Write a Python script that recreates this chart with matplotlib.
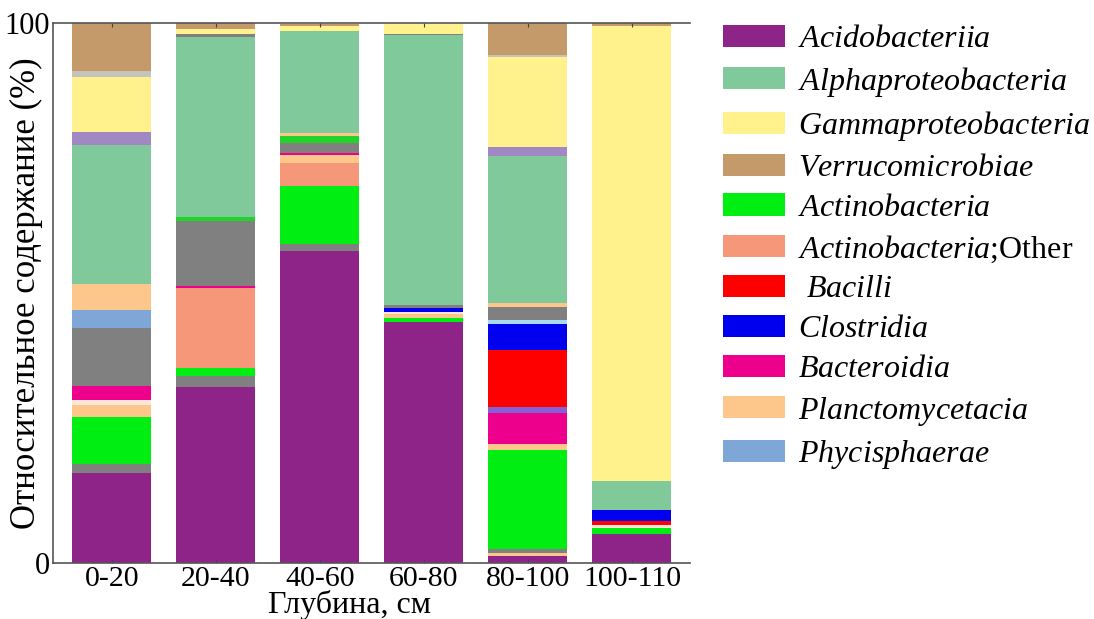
import numpy as np
import matplotlib
matplotlib.use('Agg')
import matplotlib.pyplot as plt
from matplotlib.patches import Patch


plt.rcParams['font.family'] = ['Liberation Serif', 'DejaVu Serif']
plt.rcParams['mathtext.fontset'] = 'custom'
plt.rcParams['mathtext.rm'] = 'Liberation Serif'
plt.rcParams['mathtext.it'] = 'Liberation Serif:italic'

depths = ['0-20', '20-40', '40-60', '60-80', '80-100', '100-110']

# relative abundance of each class, %, listed from the bottom of the stack up
acidobacteriia = [16.6, 32.6, 57.8, 44.6, 1.3, 5.4]
minor_peach_a = [0, 0, 0, 0, 0.5, 0]
other_gray_a = [1.7, 2.0, 1.2, 0, 0.75, 0]
actinobacteria = [8.8, 1.55, 10.9, 0.75, 18.3, 1.05]
actinobacteria_other = [0, 14.8, 4.1, 0, 0, 0]
planctomycetacia = [2.2, 0, 1.5, 0.8, 1.2, 0]
minor_light = [0.9, 0, 0, 0.3, 0, 0.6]
bacteroidia = [2.6, 0.4, 0.5, 0, 5.7, 0]
minor_violet = [0, 0, 0, 0, 1.1, 0]
bacilli = [0, 0, 0, 0, 10.6, 0.8]
clostridia = [0, 0, 0, 0.85, 4.8, 2.0]
minor_lightblue = [0, 0, 0, 0, 0.75, 0]
other_gray_b = [10.8, 12.0, 1.7, 0.5, 2.35, 0]
phycisphaerae = [3.3, 0, 0, 0, 0, 0]
minor_green = [0, 0.75, 1.4, 0, 0, 0]
minor_peach_b = [4.8, 0, 0.6, 0, 0.8, 0]
alphaproteobacteria = [25.7, 33.4, 18.8, 49.9, 27.3, 5.25]
other_gray_c = [0, 0.4, 0, 0.25, 0, 0]
minor_lavender = [2.5, 0, 0, 0, 1.55, 0]
gammaproteobacteria = [10.1, 1.05, 0.9, 1.9, 16.7, 84.4]
minor_silver = [1.2, 0, 0, 0, 0.4, 0]
verrucomicrobiae = [8.8, 1.1, 0.4, 0, 5.9, 0.5]

C_ACIDO = '#8e2487'
C_ALPHA = '#7fc99b'
C_GAMMA = '#fff28c'
C_VERRUCO = '#c49a6a'
C_ACTINO = '#00ee11'
C_ACTINO_OTHER = '#f7977a'
C_BACILLI = '#ff0000'
C_CLOSTRIDIA = '#0000ee'
C_BACTEROIDIA = '#ec008c'
C_PLANCTO = '#fdc68a'
C_PHYCIS = '#7ea7d8'
C_GRAY = '#808080'

stack = [
    (acidobacteriia, C_ACIDO),
    (minor_peach_a, C_PLANCTO),
    (other_gray_a, C_GRAY),
    (actinobacteria, C_ACTINO),
    (actinobacteria_other, C_ACTINO_OTHER),
    (planctomycetacia, C_PLANCTO),
    (minor_light, '#fde6d6'),
    (bacteroidia, C_BACTEROIDIA),
    (minor_violet, '#8560d8'),
    (bacilli, C_BACILLI),
    (clostridia, C_CLOSTRIDIA),
    (minor_lightblue, '#a9d9f0'),
    (other_gray_b, C_GRAY),
    (phycisphaerae, C_PHYCIS),
    (minor_green, '#22d42a'),
    (minor_peach_b, C_PLANCTO),
    (alphaproteobacteria, C_ALPHA),
    (other_gray_c, C_GRAY),
    (minor_lavender, '#a187c3'),
    (gammaproteobacteria, C_GAMMA),
    (minor_silver, '#c6c3bd'),
    (verrucomicrobiae, C_VERRUCO),
]

legend_items = [
    (C_ACIDO, r'$\mathit{Acidobacteriia}$'),
    (C_ALPHA, r'$\mathit{Alphaproteobacteria}$'),
    (C_GAMMA, r'$\mathit{Gammaproteobacteria}$'),
    (C_VERRUCO, r'$\mathit{Verrucomicrobiae}$'),
    (C_ACTINO, r'$\mathit{Actinobacteria}$'),
    (C_ACTINO_OTHER, r'$\mathit{Actinobacteria}$;Other'),
    (C_BACILLI, r' $\mathit{Bacilli}$'),
    (C_CLOSTRIDIA, r'$\mathit{Clostridia}$'),
    (C_BACTEROIDIA, r'$\mathit{Bacteroidia}$'),
    (C_PLANCTO, r'$\mathit{Planctomycetacia}$'),
    (C_PHYCIS, r'$\mathit{Phycisphaerae}$'),
]

W, H = 1094, 619
fig = plt.figure(figsize=(W / 100, H / 100), dpi=100)
ax = fig.add_axes([53 / W, (H - 563) / H, (690 - 53) / W, (563 - 23) / H])

x = np.arange(len(depths))
bottom = np.zeros(len(depths))
for values, color in stack:
    values = np.array(values, dtype=float)
    ax.bar(x, values, 0.76, bottom=bottom, color=color, linewidth=0)
    bottom += values

ax.set_xlim(-0.567, 5.558)
ax.set_ylim(0, 100)
ax.set_xticks(x)
ax.set_xticklabels(depths)
ax.set_yticks([0, 100])
ax.tick_params(axis='x', direction='in', length=3, top=True,
               labelsize=21.5, pad=2, color='#444444')
ax.tick_params(axis='y', length=0, labelsize=22, pad=2)
for side in ('left', 'bottom', 'top'):
    ax.spines[side].set_color('#555555')
    ax.spines[side].set_linewidth(1.2)
ax.spines['right'].set_visible(False)

ax.set_xlabel('Глубина, см', fontsize=23, va='baseline')
ax.xaxis.set_label_coords(0.465, -0.0926)
ax.set_ylabel('Относительное содержание (%)', fontsize=25, va='center')
ax.yaxis.set_label_coords(-0.041, 0.5)

handles = [Patch(facecolor=c, edgecolor='none') for c, _ in legend_items]
labels = [t for _, t in legend_items]
fig.legend(handles, labels, loc='upper left',
           bbox_to_anchor=(710 / W, 1 - 12 / H), frameon=False,
           fontsize=23, handlelength=1.94, handleheight=0.69,
           handletextpad=0.42, labelspacing=0.33, borderaxespad=0)

fig.savefig('out.png', dpi=100)
